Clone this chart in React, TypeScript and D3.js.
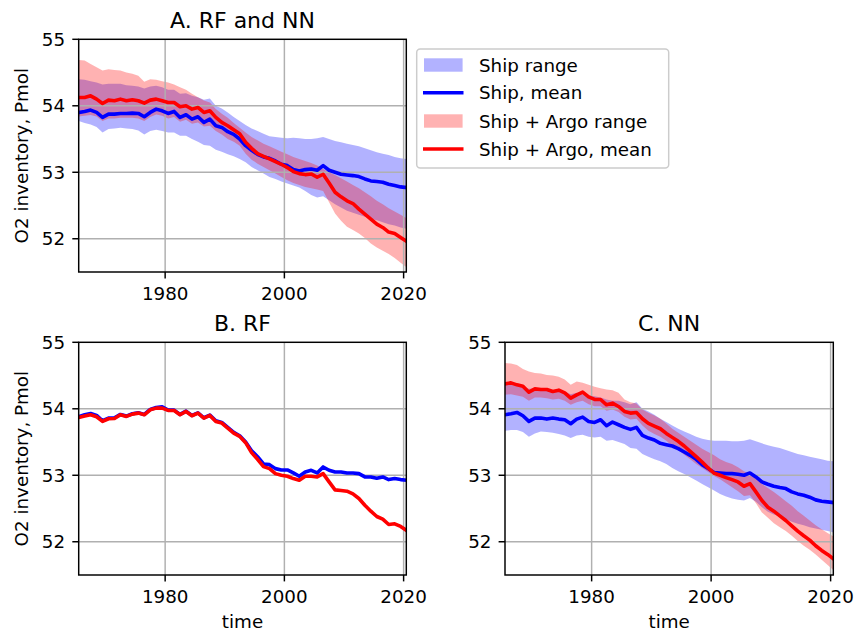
import React from 'react';
import * as d3 from 'd3';

// Annual samples, mid-year
const YEARS = Array.from({ length: 56 }, (_, i) => 1965.5 + i);

const X_TICKS = [1980, 2000, 2020];
const Y_TICKS = [52, 53, 54, 55];
const X_DOMAIN: [number, number] = [1965.5, 2020.45];
const Y_DOMAIN: [number, number] = [51.5, 55];

// ---- A. RF and NN ----
const A_SHIP_MEAN = [
  53.90, 53.915, 53.935, 53.90, 53.825, 53.875, 53.875, 53.885, 53.885, 53.89,
  53.885, 53.835, 53.90, 53.95, 53.925, 53.885, 53.915, 53.825, 53.865, 53.80,
  53.835, 53.75, 53.80, 53.70, 53.675, 53.61, 53.57, 53.50, 53.40, 53.33,
  53.27, 53.23, 53.21, 53.17, 53.12, 53.10, 53.04, 53.02, 53.04, 53.05,
  53.03, 53.10, 53.03, 53.00, 52.97, 52.96, 52.95, 52.935, 52.90, 52.87,
  52.86, 52.85, 52.82, 52.80, 52.78, 52.77,
];
const A_ARGO_MEAN = [
  54.125, 54.125, 54.15, 54.10, 54.035, 54.085, 54.075, 54.10, 54.075, 54.09,
  54.075, 54.04, 54.085, 54.10, 54.075, 54.05, 54.05, 53.985, 54.00, 53.95,
  53.975, 53.90, 53.925, 53.825, 53.75, 53.70, 53.64, 53.58, 53.45, 53.36,
  53.28, 53.24, 53.20, 53.16, 53.12, 53.07, 53.01, 52.98, 52.965, 52.975,
  52.925, 52.97, 52.84, 52.70, 52.63, 52.57, 52.53, 52.445, 52.37, 52.295,
  52.22, 52.17, 52.10, 52.08, 52.02, 51.96,
];
const A_SHIP_HIGH = [
  54.40, 54.39, 54.37, 54.35, 54.32, 54.33, 54.33, 54.33, 54.31, 54.30,
  54.29, 54.26, 54.29, 54.30, 54.28, 54.24, 54.24, 54.18, 54.19, 54.15,
  54.13, 54.09, 54.11, 54.00, 53.96, 53.90, 53.83, 53.77, 53.71, 53.66,
  53.62, 53.58, 53.54, 53.53, 53.52, 53.51, 53.52, 53.51, 53.50, 53.50,
  53.51, 53.53, 53.50, 53.47, 53.45, 53.43, 53.41, 53.39, 53.36, 53.33,
  53.30, 53.28, 53.26, 53.23, 53.21, 53.20,
];
const A_SHIP_LOW = [
  53.77, 53.74, 53.72, 53.68, 53.60, 53.65, 53.66, 53.67, 53.66, 53.65,
  53.63, 53.57, 53.62, 53.64, 53.62, 53.60, 53.60, 53.55, 53.55, 53.50,
  53.46, 53.41, 53.40, 53.34, 53.31, 53.27, 53.24, 53.20, 53.15, 53.08,
  53.03, 52.98, 52.93, 52.90, 52.86, 52.83, 52.80, 52.77, 52.72, 52.66,
  52.62, 52.64, 52.58, 52.52, 52.47, 52.42, 52.39, 52.36, 52.33, 52.30,
  52.28, 52.25, 52.22, 52.20, 52.17, 52.15,
];
const A_ARGO_HIGH = [
  54.69, 54.68, 54.63, 54.58, 54.53, 54.55, 54.54, 54.53, 54.50, 54.48,
  54.45, 54.36, 54.40, 54.39, 54.37, 54.35, 54.32, 54.28, 54.24, 54.18,
  54.13, 54.08, 54.05, 53.95, 53.88, 53.82, 53.74, 53.67, 53.60, 53.53,
  53.48, 53.43, 53.39, 53.35, 53.31, 53.27, 53.23, 53.20, 53.17, 53.14,
  53.10, 53.05, 53.00, 52.96, 52.91, 52.86, 52.81, 52.76, 52.70, 52.64,
  52.57, 52.52, 52.46, 52.41, 52.36, 52.31,
];
const A_ARGO_LOW = [
  53.84, 53.85, 53.86, 53.84, 53.77, 53.81, 53.81, 53.82, 53.82, 53.82,
  53.81, 53.77, 53.83, 53.87, 53.85, 53.81, 53.83, 53.76, 53.79, 53.73,
  53.75, 53.69, 53.70, 53.62, 53.57, 53.50, 53.46, 53.40, 53.28, 53.19,
  53.13, 53.08, 53.03, 52.98, 52.93, 52.88, 52.84, 52.81, 52.78, 52.76,
  52.74, 52.72, 52.55, 52.38, 52.27, 52.18, 52.13, 52.08, 52.01, 51.93,
  51.87, 51.82, 51.77, 51.71, 51.64, 51.57,
];

// ---- B. RF ----
const B_SHIP_MEAN = [
  53.88, 53.91, 53.93, 53.90, 53.82, 53.86, 53.865, 53.915, 53.89, 53.925,
  53.94, 53.915, 53.99, 54.02, 54.03, 53.98, 53.98, 53.915, 53.965, 53.90,
  53.94, 53.865, 53.905, 53.82, 53.795, 53.72, 53.645, 53.595, 53.50, 53.37,
  53.28, 53.17, 53.16, 53.10, 53.08, 53.08, 53.035, 52.985, 53.05, 53.075,
  53.035, 53.125, 53.075, 53.05, 53.05, 53.035, 53.035, 53.025, 52.975, 52.975,
  52.955, 52.975, 52.935, 52.95, 52.935, 52.925,
];
const B_ARGO_MEAN = [
  53.87, 53.89, 53.91, 53.88, 53.81, 53.85, 53.855, 53.91, 53.885, 53.92,
  53.935, 53.91, 53.985, 54.01, 54.01, 53.975, 53.975, 53.91, 53.96, 53.895,
  53.935, 53.86, 53.90, 53.81, 53.785, 53.71, 53.635, 53.585, 53.49, 53.34,
  53.24, 53.13, 53.10, 53.025, 53.00, 52.985, 52.95, 52.925, 52.985, 52.985,
  52.975, 53.025, 52.90, 52.78, 52.77, 52.76, 52.72, 52.65, 52.55, 52.46,
  52.38, 52.34, 52.26, 52.27, 52.23, 52.17,
];

// ---- C. NN ----
const C_SHIP_MEAN = [
  53.91, 53.925, 53.945, 53.895, 53.81, 53.86, 53.86, 53.845, 53.86, 53.845,
  53.835, 53.775, 53.845, 53.875, 53.81, 53.795, 53.835, 53.745, 53.80, 53.76,
  53.72, 53.69, 53.72, 53.60, 53.56, 53.53, 53.48, 53.46, 53.44, 53.40,
  53.35, 53.30, 53.24, 53.16, 53.10, 53.04, 53.035, 53.025, 53.025, 53.015,
  53.00, 53.035, 52.975, 52.90, 52.865, 52.835, 52.815, 52.80, 52.75, 52.72,
  52.70, 52.67, 52.63, 52.61, 52.60, 52.59,
];
const C_ARGO_MEAN = [
  54.375, 54.39, 54.36, 54.34, 54.25, 54.30, 54.29, 54.29, 54.26, 54.28,
  54.24, 54.16, 54.21, 54.25, 54.18, 54.14, 54.14, 54.06, 54.085, 54.035,
  53.96, 53.935, 53.945, 53.85, 53.78, 53.74, 53.70, 53.63, 53.57, 53.51,
  53.44, 53.36, 53.28, 53.20, 53.11, 53.03, 53.00, 52.965, 52.935, 52.90,
  52.835, 52.875, 52.75, 52.62, 52.52, 52.46, 52.39, 52.32, 52.24, 52.16,
  52.09, 52.025, 51.94, 51.87, 51.81, 51.74,
];
const C_SHIP_HIGH = [
  54.38, 54.37, 54.36, 54.34, 54.30, 54.31, 54.30, 54.29, 54.28, 54.28,
  54.26, 54.22, 54.24, 54.22, 54.20, 54.19, 54.17, 54.14, 54.12, 54.12,
  54.10, 54.07, 54.10, 54.00, 53.96, 53.91, 53.85, 53.80, 53.75, 53.70,
  53.66, 53.62, 53.58, 53.55, 53.53, 53.52, 53.52, 53.52, 53.51, 53.51,
  53.52, 53.54, 53.51, 53.48, 53.45, 53.43, 53.41, 53.38, 53.35, 53.32,
  53.30, 53.28, 53.26, 53.24, 53.22, 53.21,
];
const C_SHIP_LOW = [
  53.67, 53.68, 53.68, 53.65, 53.58, 53.63, 53.66, 53.65, 53.64, 53.62,
  53.60, 53.56, 53.60, 53.61, 53.58, 53.57, 53.58, 53.52, 53.53, 53.50,
  53.47, 53.41, 53.40, 53.32, 53.28, 53.24, 53.21, 53.17, 53.11, 53.06,
  53.02, 52.97, 52.92, 52.87, 52.82, 52.77, 52.72, 52.68, 52.65, 52.63,
  52.62, 52.66, 52.60, 52.52, 52.45, 52.41, 52.38, 52.34, 52.30, 52.27,
  52.25, 52.22, 52.20, 52.18, 52.16, 52.14,
];
const C_ARGO_HIGH = [
  54.69, 54.68, 54.66, 54.60, 54.56, 54.54, 54.53, 54.51, 54.50, 54.48,
  54.44, 54.36, 54.41, 54.39, 54.36, 54.33, 54.31, 54.29, 54.28, 54.24,
  54.14, 54.10, 54.08, 53.99, 53.94, 53.90, 53.85, 53.78, 53.70, 53.64,
  53.58, 53.52, 53.46, 53.40, 53.35, 53.30, 53.24, 53.20, 53.17, 53.12,
  53.06, 53.02, 52.96, 52.87, 52.81, 52.75, 52.68, 52.61, 52.54, 52.46,
  52.39, 52.32, 52.25, 52.19, 52.13, 52.08,
];
const C_ARGO_LOW = [
  54.21, 54.22, 54.20, 54.18, 54.12, 54.17, 54.17, 54.16, 54.14, 54.15,
  54.12, 54.06, 54.10, 54.12, 54.07, 54.04, 54.04, 53.97, 53.99, 53.95,
  53.88, 53.84, 53.85, 53.75, 53.67, 53.62, 53.58, 53.52, 53.44, 53.38,
  53.31, 53.24, 53.17, 53.11, 53.05, 52.99, 52.94, 52.88, 52.82, 52.76,
  52.69, 52.70, 52.58, 52.44, 52.36, 52.28, 52.22, 52.16, 52.09, 52.01,
  51.94, 51.88, 51.81, 51.73, 51.65, 51.57,
];

const LEGEND_LABELS = ['Ship range', 'Ship, mean', 'Ship + Argo range', 'Ship + Argo, mean'];

const BLUE = '#0000ff';
const RED = '#ff0000';
const GRID = '#b0b0b0';
const FONT = "'DejaVu Sans', sans-serif";
const TICK_FS = 18.3;
const TITLE_FS = 22;
const LINE_W = 3.6;
const THIN = 1.47;
const TICK_LEN = 6.4;

type Band = { low: number[]; high: number[]; color: string };
type PanelSpec = {
  id: string;
  title: string;
  left: number;
  top: number;
  width: number;
  height: number;
  bands: Band[];
  lines: { values: number[]; color: string }[];
  yLabel: boolean;
  xLabel: boolean;
};

const PANELS: PanelSpec[] = [
  {
    id: 'a', title: 'A. RF and NN', left: 78.7, top: 39.3, width: 327.6, height: 232.7,
    bands: [
      { low: A_SHIP_LOW, high: A_SHIP_HIGH, color: BLUE },
      { low: A_ARGO_LOW, high: A_ARGO_HIGH, color: RED },
    ],
    lines: [
      { values: A_SHIP_MEAN, color: BLUE },
      { values: A_ARGO_MEAN, color: RED },
    ],
    yLabel: true, xLabel: false,
  },
  {
    id: 'b', title: 'B. RF', left: 78.7, top: 342.3, width: 327.6, height: 232.7,
    bands: [],
    lines: [
      { values: B_SHIP_MEAN, color: BLUE },
      { values: B_ARGO_MEAN, color: RED },
    ],
    yLabel: true, xLabel: true,
  },
  {
    id: 'c', title: 'C. NN', left: 505, top: 342.3, width: 328.3, height: 232.7,
    bands: [
      { low: C_SHIP_LOW, high: C_SHIP_HIGH, color: BLUE },
      { low: C_ARGO_LOW, high: C_ARGO_HIGH, color: RED },
    ],
    lines: [
      { values: C_SHIP_MEAN, color: BLUE },
      { values: C_ARGO_MEAN, color: RED },
    ],
    yLabel: false, xLabel: true,
  },
];

function Panel({ p }: { p: PanelSpec }) {
  const x = d3.scaleLinear().domain(X_DOMAIN).range([p.left, p.left + p.width]);
  const y = d3.scaleLinear().domain(Y_DOMAIN).range([p.top + p.height, p.top]);
  const bottom = p.top + p.height;
  const right = p.left + p.width;
  const cx = p.left + p.width / 2;
  const cy = p.top + p.height / 2;

  const areaPath = (b: Band) =>
    d3.area<number>()
      .x((_, i) => x(YEARS[i]))
      .y0((_, i) => y(b.low[i]))
      .y1((_, i) => y(b.high[i]))(b.low) || '';
  const linePath = (v: number[]) =>
    d3.line<number>()
      .x((_, i) => x(YEARS[i]))
      .y((d) => y(d))(v) || '';

  const clipId = `clip-${p.id}`;

  return (
    <g>
      <defs>
        <clipPath id={clipId}>
          <rect x={p.left} y={p.top} width={p.width} height={p.height} />
        </clipPath>
      </defs>
      <g clipPath={`url(#${clipId})`}>
        {p.bands.map((b, i) => (
          <path key={i} d={areaPath(b)} fill={b.color} fillOpacity={0.3} stroke="none" />
        ))}
        {X_TICKS.map((t) => (
          <line key={`gx${t}`} x1={x(t)} x2={x(t)} y1={p.top} y2={bottom} stroke={GRID} strokeWidth={THIN} />
        ))}
        {Y_TICKS.map((t) => (
          <line key={`gy${t}`} x1={p.left} x2={right} y1={y(t)} y2={y(t)} stroke={GRID} strokeWidth={THIN} />
        ))}
        {p.lines.map((l, i) => (
          <path key={i} d={linePath(l.values)} fill="none" stroke={l.color} strokeWidth={LINE_W}
            strokeLinejoin="round" strokeLinecap="square" />
        ))}
      </g>
      <rect x={p.left} y={p.top} width={p.width} height={p.height} fill="none" stroke="#000" strokeWidth={THIN} />
      {X_TICKS.map((t) => (
        <g key={`tx${t}`}>
          <line x1={x(t)} x2={x(t)} y1={bottom} y2={bottom + TICK_LEN} stroke="#000" strokeWidth={THIN} />
          <text x={x(t)} y={bottom + 28} textAnchor="middle" fontSize={TICK_FS} fontFamily={FONT} fill="#000">{t}</text>
        </g>
      ))}
      {Y_TICKS.map((t) => (
        <g key={`ty${t}`}>
          <line x1={p.left - TICK_LEN} x2={p.left} y1={y(t)} y2={y(t)} stroke="#000" strokeWidth={THIN} />
          <text x={p.left - 13.6} y={y(t) + 6.7} textAnchor="end" fontSize={TICK_FS} fontFamily={FONT} fill="#000">{t}</text>
        </g>
      ))}
      <text x={cx} y={p.top - 11} textAnchor="middle" fontSize={TITLE_FS} fontFamily={FONT} fill="#000">{p.title}</text>
      {p.yLabel && (
        <text transform={`translate(${p.left - 50.5},${cy}) rotate(-90)`} textAnchor="middle"
          fontSize={TICK_FS} fontFamily={FONT} fill="#000">O2 inventory, Pmol</text>
      )}
      {p.xLabel && (
        <text x={cx} y={bottom + 53} textAnchor="middle" fontSize={TICK_FS} fontFamily={FONT} fill="#000">time</text>
      )}
    </g>
  );
}

function Legend() {
  const left = 416.7;
  const top = 49;
  const rows = [65, 92.7, 121, 149];
  const kinds: ('patch' | 'line')[] = ['patch', 'line', 'patch', 'line'];
  const colors = [BLUE, BLUE, RED, RED];
  return (
    <g>
      <rect x={left} y={top} width={252} height={119} rx={3.5} ry={3.5}
        fill="#ffffff" fillOpacity={0.8} stroke="#cccccc" strokeWidth={THIN} />
      {LEGEND_LABELS.map((label, i) => (
        <g key={label}>
          {kinds[i] === 'patch' ? (
            <rect x={424} y={rows[i] - 6.7} width={38.6} height={13.4} fill={colors[i]} fillOpacity={0.3} />
          ) : (
            <line x1={423} x2={463.5} y1={rows[i]} y2={rows[i]} stroke={colors[i]} strokeWidth={LINE_W} />
          )}
          <text x={479} y={rows[i] + 6.7} fontSize={TICK_FS} fontFamily={FONT} fill="#000">{label}</text>
        </g>
      ))}
    </g>
  );
}

export default function App() {
  return (
    <svg width={862} height={633} viewBox="0 0 862 633"
      style={{ position: 'absolute', left: 0, top: 0, background: '#fff' }}>
      <rect x={0} y={0} width={862} height={633} fill="#fff" />
      {PANELS.map((p) => (
        <Panel key={p.id} p={p} />
      ))}
      <Legend />
    </svg>
  );
}
